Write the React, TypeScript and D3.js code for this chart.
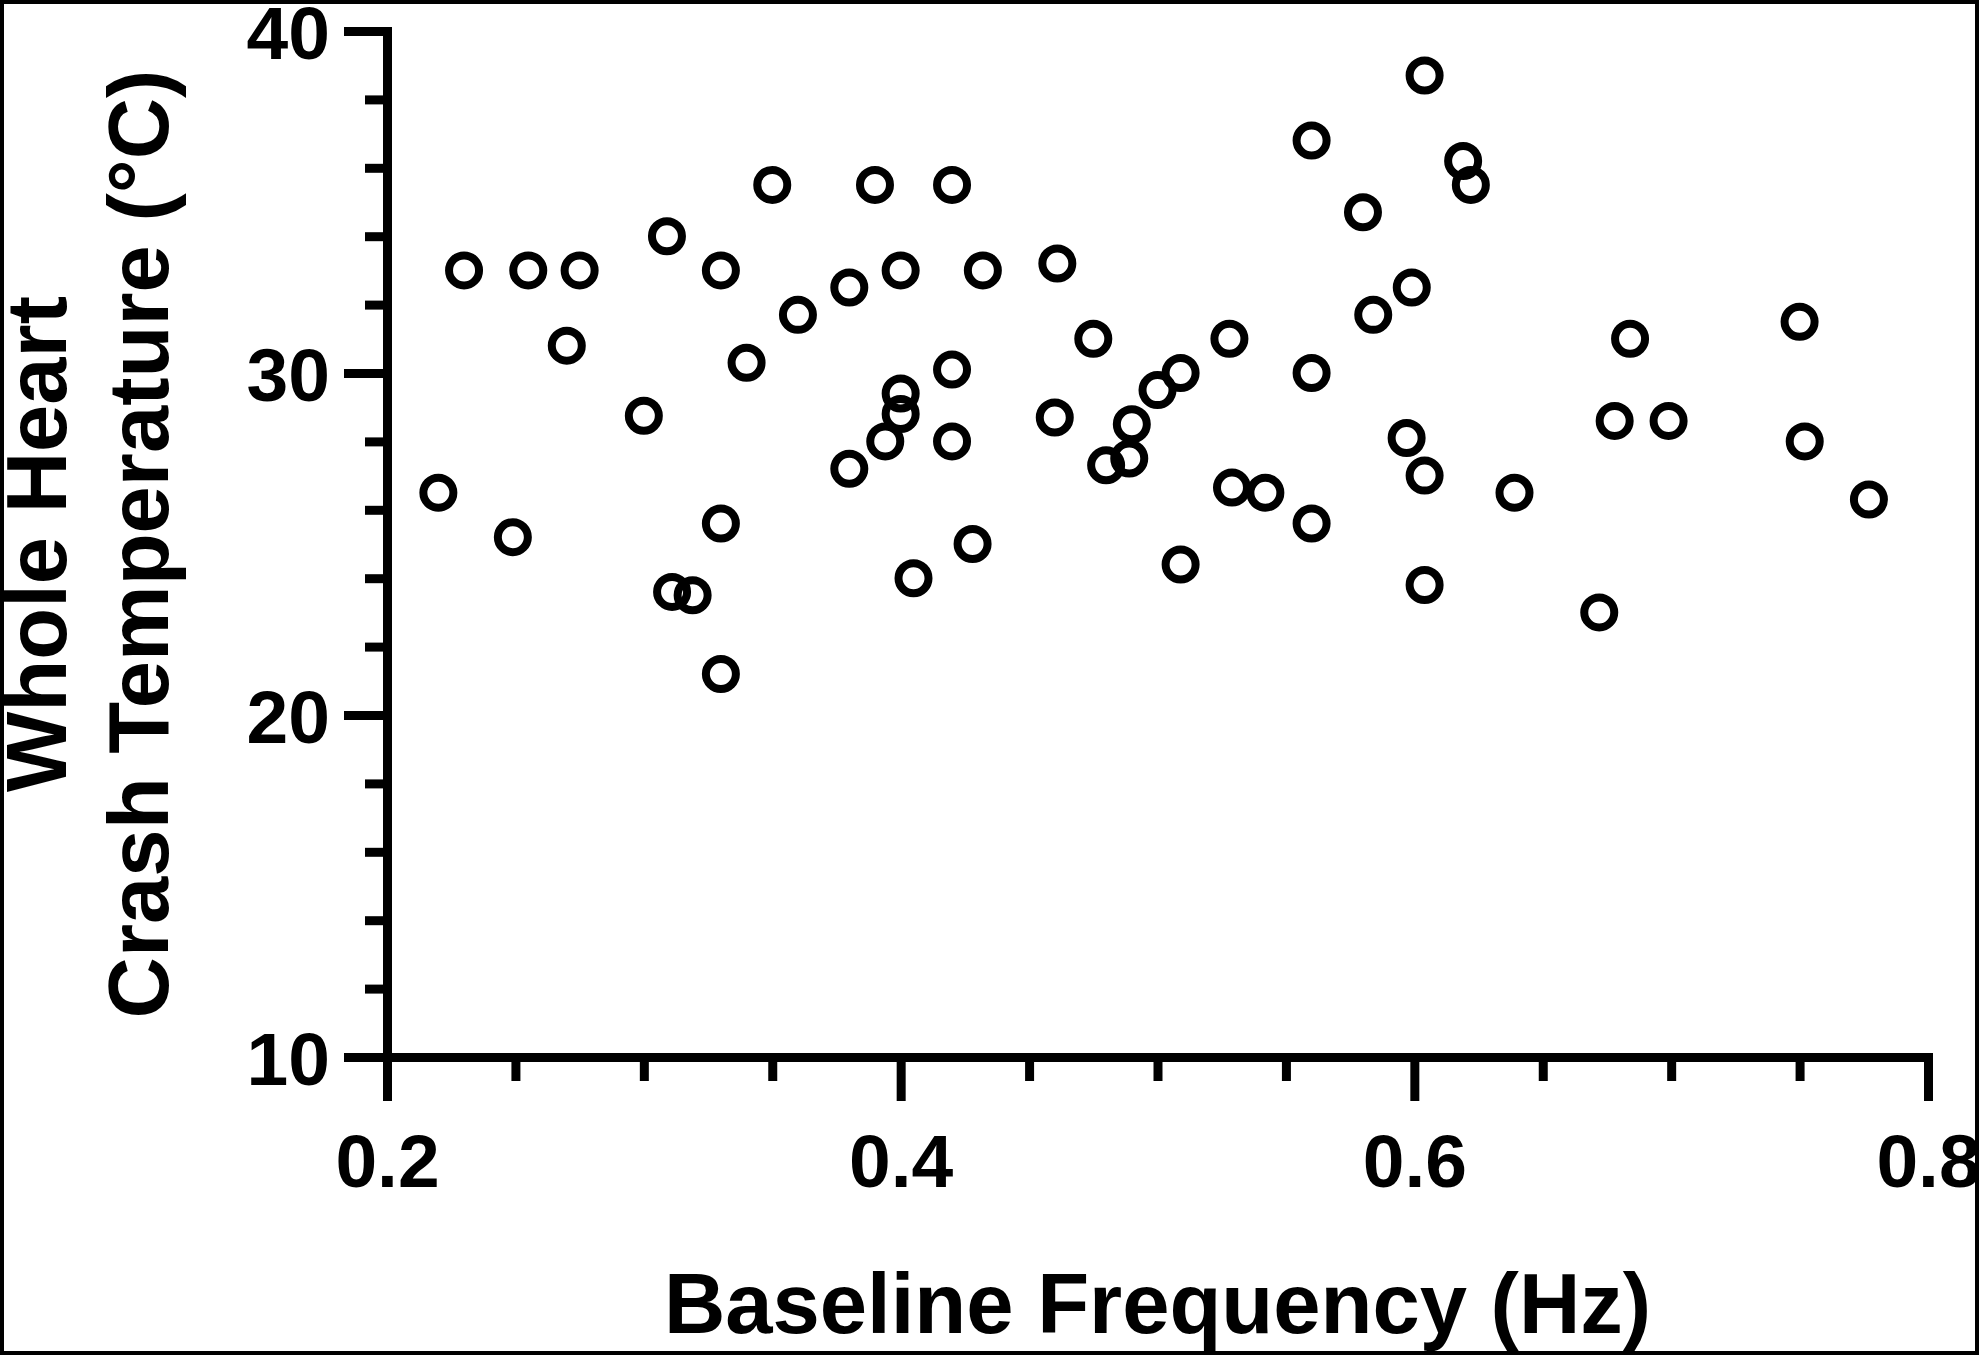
import { useEffect, useRef } from "react";
import * as d3 from "d3";

// Baseline frequency (Hz) and whole heart crash temperature (°C), one entry per heart
const frequency = [
  0.22, 0.23, 0.249, 0.255, 0.27, 0.275, 0.3, 0.309, 0.311, 0.319, 0.33, 0.33,
  0.33, 0.34, 0.35, 0.36, 0.38, 0.38, 0.39, 0.394, 0.4, 0.4, 0.4, 0.405, 0.42,
  0.42, 0.42, 0.428, 0.432, 0.46, 0.461, 0.475, 0.48, 0.489, 0.49, 0.5, 0.509,
  0.509, 0.528, 0.529, 0.542, 0.56, 0.56, 0.56, 0.58, 0.584, 0.597, 0.599,
  0.604, 0.604, 0.604, 0.619, 0.622, 0.639, 0.672, 0.678, 0.684, 0.699, 0.75,
  0.752, 0.777,
];
const crashTemp = [
  26.5, 33.0, 25.2, 33.0, 30.8, 33.0, 28.75, 34.0, 23.6, 23.5, 33.0, 25.6,
  21.2, 30.3, 35.5, 31.7, 32.5, 27.2, 35.5, 28.0, 33.0, 29.4, 28.8, 24.0, 35.5,
  30.1, 28.0, 25.0, 33.0, 28.7, 33.2, 31.0, 27.3, 27.5, 28.5, 29.5, 30.0, 24.4,
  31.0, 26.65, 26.5, 36.8, 30.0, 25.6, 34.7, 31.7, 28.1, 32.5, 38.7, 27.0, 23.8,
  36.2, 35.5, 26.5, 23.0, 28.6, 31.0, 28.6, 31.5, 28.0, 26.3,
];

const xMajorTicks = [0.2, 0.4, 0.6, 0.8];
const xMinorTicks = [0.25, 0.3, 0.35, 0.45, 0.5, 0.55, 0.65, 0.7, 0.75];
const yMajorTicks = [10, 20, 30, 40];
const yMinorTicks = [12, 14, 16, 18, 22, 24, 26, 28, 32, 34, 36, 38];

const xTitle = "Baseline Frequency (Hz)";
const yTitleLines = ["Whole Heart", "Crash Temperature (°C)"];

const FONT = "Arial, 'Liberation Sans', Helvetica, sans-serif";

export default function App() {
  const svgRef = useRef<SVGSVGElement | null>(null);
  const W = 1983;
  const H = 1357;

  useEffect(() => {
    if (!svgRef.current) return;
    const svg = d3.select(svgRef.current);
    svg.selectAll("*").remove();

    const left = 387;
    const right = 1928;
    const top = 31;
    const bottom = 1057;

    const x = d3.scaleLinear().domain([0.2, 0.8]).range([left, right]);
    const y = d3.scaleLinear().domain([10, 40]).range([bottom, top]);

    // outer frame
    svg
      .append("rect")
      .attr("x", 2)
      .attr("y", 2)
      .attr("width", 1975)
      .attr("height", 1351)
      .attr("fill", "white")
      .attr("stroke", "black")
      .attr("stroke-width", 4);

    const strokeW = 9;

    const styleAxis = (g: d3.Selection<SVGGElement, unknown, null, undefined>) => {
      g.attr("font-family", FONT).attr("font-size", 75).attr("font-weight", "bold");
      g.selectAll("path.domain")
        .attr("stroke", "black")
        .attr("stroke-width", strokeW)
        .attr("stroke-linecap", "square");
      g.selectAll(".tick line").attr("stroke", "black").attr("stroke-width", strokeW);
      g.selectAll(".tick text").attr("fill", "black");
    };

    // minor ticks first
    svg
      .append("g")
      .attr("transform", `translate(0,${bottom})`)
      .call(
        d3.axisBottom(x).tickValues(xMinorTicks).tickSize(24).tickSizeOuter(0).tickFormat(() => "")
      )
      .call(styleAxis);
    svg
      .append("g")
      .attr("transform", `translate(${left},0)`)
      .call(
        d3.axisLeft(y).tickValues(yMinorTicks).tickSize(22).tickSizeOuter(0).tickFormat(() => "")
      )
      .call(styleAxis);

    // major ticks + labels
    const gx = svg
      .append("g")
      .attr("transform", `translate(0,${bottom})`)
      .call(
        d3
          .axisBottom(x)
          .tickValues(xMajorTicks)
          .tickSize(44)
          .tickSizeOuter(0)
          .tickPadding(33)
          .tickFormat(d3.format(".1f"))
      )
      .call(styleAxis);
    gx.selectAll(".tick text").attr("dy", "0.71em");

    const gy = svg
      .append("g")
      .attr("transform", `translate(${left},0)`)
      .call(
        d3
          .axisLeft(y)
          .tickValues(yMajorTicks)
          .tickSize(43)
          .tickSizeOuter(0)
          .tickPadding(14)
          .tickFormat(d3.format("d"))
      )
      .call(styleAxis);
    gy.selectAll(".tick text").attr("dy", "0.36em");

    // axis titles
    svg
      .append("text")
      .attr("x", (left + right) / 2)
      .attr("y", 1333)
      .attr("text-anchor", "middle")
      .attr("font-family", FONT)
      .attr("font-size", 85)
      .attr("font-weight", "bold")
      .text(xTitle);

    const yMid = (top + bottom) / 2;
    const titleBaselines = [66, 168];
    yTitleLines.forEach((line, i) => {
      svg
        .append("text")
        .attr("transform", `translate(${titleBaselines[i]},${yMid}) rotate(-90)`)
        .attr("text-anchor", "middle")
        .attr("font-family", FONT)
        .attr("font-size", 85)
        .attr("font-weight", "bold")
        .text(line);
    });

    // points
    svg
      .append("g")
      .selectAll("circle")
      .data(frequency.map((f, i) => [f, crashTemp[i]] as [number, number]))
      .join("circle")
      .attr("cx", (d) => x(d[0]))
      .attr("cy", (d) => y(d[1]))
      .attr("r", 15)
      .attr("fill", "none")
      .attr("stroke", "black")
      .attr("stroke-width", 8);
  }, []);

  return (
    <div style={{ position: "fixed", left: 0, top: 0, background: "white" }}>
      <svg ref={svgRef} width={W} height={H} style={{ display: "block" }} />
    </div>
  );
}
